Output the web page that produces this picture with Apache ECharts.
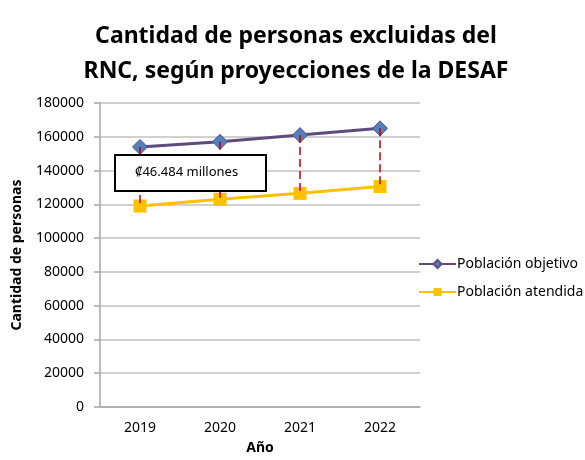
<!DOCTYPE html>
<html>
<head>
<meta charset="utf-8">
<script src="https://cdn.jsdelivr.net/npm/echarts@6/dist/echarts.min.js"></script>
<style>
  html, body { margin: 0; padding: 0; background: #fff; }
  #chart { width: 585px; height: 460px; }
</style>
</head>
<body>
<div id="chart"></div>
<script>
// datos
const anios = ['2019', '2020', '2021', '2022'];
const poblacionObjetivo = [154000, 157000, 161000, 165000];
const poblacionAtendida = [119000, 123000, 126500, 130500];
const nota = '₡46.484 millones';

// líneas verticales discontinuas entre ambas series
const brechas = anios.map((a, i) => [
    { coord: [a, poblacionObjetivo[i]] },
    { coord: [a, poblacionAtendida[i]] }
]);

const font = 'Noto Sans';
let chart = echarts.init(document.getElementById('chart'));

chart.setOption({
    animation: false,
    textStyle: { fontFamily: font },
    title: {
        text: 'Cantidad de personas excluidas del\nRNC, según proyecciones de la DESAF',
        left: 291,
        textAlign: 'center',
        top: 14,
        textStyle: { fontSize: 23, fontWeight: 'bold', color: '#000', lineHeight: 35, fontFamily: font }
    },
    legend: {
        orient: 'vertical',
        left: 413,
        top: 252,
        itemGap: 14,
        itemWidth: 37,
        itemHeight: 10,
        textStyle: { fontSize: 14, color: '#000', padding: [0, 0, 0, -4] },
        data: ['Población objetivo', 'Población atendida']
    },
    grid: { left: 100, right: 165, top: 103, bottom: 52 },
    xAxis: {
        type: 'category',
        data: anios,
        name: 'Año',
        nameLocation: 'middle',
        nameGap: 34,
        nameTextStyle: { fontSize: 14, fontWeight: 'bold', color: '#000' },
        axisLine: { lineStyle: { color: '#a6a6a6', width: 1.5 } },
        axisTick: { show: false },
        axisLabel: { fontSize: 14, color: '#000', margin: 14 }
    },
    yAxis: {
        type: 'value',
        min: 0,
        max: 180000,
        interval: 20000,
        name: 'Cantidad de personas',
        nameLocation: 'middle',
        nameGap: 76,
        nameTextStyle: { fontSize: 14, fontWeight: 'bold', color: '#000' },
        axisLine: { show: true, lineStyle: { color: '#a6a6a6', width: 1.5 } },
        axisTick: { show: true, length: 6, lineStyle: { color: '#a6a6a6', width: 1.5 } },
        axisLabel: { fontSize: 14, color: '#000', margin: 16, formatter: v => String(v) },
        splitLine: { lineStyle: { color: '#c0c0c0', width: 1.5 } }
    },
    graphic: [{
        type: 'rect',
        left: 114,
        top: 154,
        z: 100,
        shape: { x: 0, y: 0, width: 151, height: 36 },
        style: { fill: '#fff', stroke: '#000', lineWidth: 2 }
    }, {
        type: 'text',
        left: 135,
        top: 166,
        z: 101,
        style: { text: nota, fontSize: 13, fontFamily: font, fill: '#000' }
    }],
    series: [{
        name: 'Población objetivo',
        type: 'line',
        data: poblacionObjetivo,
        symbol: 'diamond',
        symbolSize: 15,
        lineStyle: { color: '#604a7b', width: 3 },
        itemStyle: { color: '#4f81bd', borderColor: '#604a7b', borderWidth: 1 },
        z: 3
    }, {
        name: 'Población atendida',
        type: 'line',
        data: poblacionAtendida,
        symbol: 'rect',
        symbolSize: 13,
        lineStyle: { color: '#ffc000', width: 3 },
        itemStyle: { color: '#ffc000' },
        z: 2,
        markLine: {
            silent: true,
            symbol: 'none',
            label: { show: false },
            lineStyle: { color: '#c00000', type: [8, 4], width: 1.5 },
            z: 5,
            data: brechas
        }
    }]
});
</script>
</body>
</html>
